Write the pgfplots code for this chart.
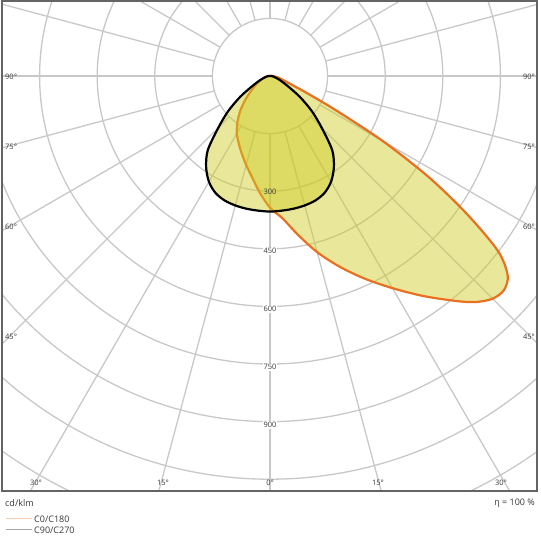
\documentclass[border=0pt]{standalone}
\usepackage{fontspec}
\setmainfont{Open Sans}
\usepackage{pgfplots}
\pgfplotsset{compat=1.18}

\definecolor{gridgray}{RGB}{200,200,200}
\definecolor{framegray}{RGB}{100,100,100}
\definecolor{lblgray}{RGB}{55,55,55}
\definecolor{ldcorange}{RGB}{232,112,32}
\definecolor{ldcfill}{RGB}{206,203,32}

\begin{document}
\begin{tikzpicture}
\useasboundingbox (0,0) rectangle (540pt,540pt);
\begin{axis}[
    at={(2pt,49pt)}, anchor=south west,
    scale only axis,
    width=535pt, height=490pt,
    xmin=-697.9, xmax=695.3,
    ymin=-1080.7, ymax=195.3,
    xtick=\empty, ytick=\empty,
    axis line style={draw=framegray, line width=2.2pt},
    axis on top,
]
% polar grid
\pgfplotsinvokeforeach{150,300,...,1350}{
  \draw[gridgray, line width=1.3pt] (axis cs:0,0) circle [radius=#1];
}
\pgfplotsinvokeforeach{0,15,...,345}{
  \draw[gridgray, line width=1.3pt]
    (axis cs:{150*cos(#1)},{150*sin(#1)}) -- (axis cs:{2000*cos(#1)},{2000*sin(#1)});
}

% C0/C180 (right half C0, left half C180), angle = polar angle in the axis
\addplot[data cs=polar, smooth, tension=0.5, draw=ldcorange, line width=2.2pt,
         fill=ldcfill, fill opacity=0.45] coordinates {
  (90,0)
  (5,3) (0,7) (-5,12) (-10,20) (-15,30) (-20,48) (-22.5,68) (-25,110)
  (-27.5,195) (-30,340) (-32.5,490) (-35,625) (-37.5,748) (-40,808)
  (-42.5,826) (-45,820) (-47.5,798) (-50,766) (-55,700) (-60,638)
  (-65,582) (-70,528) (-75,475) (-80,420) (-85,372) (-90,343)
  (265,305) (260,268) (255,240) (250,215) (245,193) (240,173) (235,148)
  (230,122) (225,95) (220,70) (215,52) (210,40) (205,28) (200,19)
  (195,13) (190,9) (185,6) (180,4) (175,2)
} -- cycle;

% C90/C270
\addplot[data cs=polar, smooth, tension=0.5, draw=black, line width=2.2pt,
         fill=ldcfill, fill opacity=0.45] coordinates {
  (90,0)
  (5,2) (0,4) (-5,6) (-10,9) (-15,14) (-20,22) (-25,34) (-30,55) (-35,95)
  (-40,142) (-45,190) (-50,252) (-55,290) (-60,318) (-65,336) (-70,345)
  (-75,349) (-80,351) (-85,352) (-90,353)
  (265,352) (260,351) (255,349) (250,345) (245,336) (240,318) (235,290)
  (230,252) (225,190) (220,142) (215,95) (210,55) (205,34) (200,22)
  (195,14) (190,9) (185,6) (180,4) (175,2)
} -- cycle;
\end{axis}

% angle and intensity labels
\begin{scope}[every node/.style={text=lblgray, font=\fontsize{7.5}{8}\selectfont, inner sep=0pt}]
\node[anchor=west] at (5pt,463pt) {90°};
\node[anchor=west] at (5pt,393pt) {75°};
\node[anchor=west] at (5pt,313pt) {60°};
\node[anchor=west] at (5pt,203pt) {45°};
\node[anchor=east] at (535pt,463pt) {90°};
\node[anchor=east] at (535pt,393pt) {75°};
\node[anchor=east] at (535pt,313pt) {60°};
\node[anchor=east] at (535pt,203pt) {45°};
\node at (36pt,57pt) {30°};
\node at (163pt,57pt) {15°};
\node at (270pt,57pt) {0°};
\node at (378pt,57pt) {15°};
\node at (501pt,57pt) {30°};
\node at (270pt,348pt) {300};
\node[fill=white, inner sep=1pt] at (270pt,289pt) {450};
\node[fill=white, inner sep=1pt] at (270pt,231pt) {600};
\node[fill=white, inner sep=1pt] at (270pt,173pt) {750};
\node[fill=white, inner sep=1pt] at (270pt,115pt) {900};
\end{scope}

% units, efficiency and legend
\begin{scope}[every node/.style={text=lblgray, font=\fontsize{9}{10}\selectfont, inner sep=0pt}]
\node[anchor=west] at (5pt,37pt) {cd/klm};
\node[anchor=east] at (535pt,37pt) {η = 100 \%};
\draw[ldcorange!35, line width=1pt] (6pt,21pt) -- (32pt,21pt);
\node[anchor=west] at (34pt,21pt) {C0/C180};
\draw[draw={rgb,255:red,165;green,165;blue,165}, line width=1pt] (6pt,10pt) -- (32pt,10pt);
\node[anchor=west] at (34pt,10pt) {C90/C270};
\end{scope}
\end{tikzpicture}
\end{document}
